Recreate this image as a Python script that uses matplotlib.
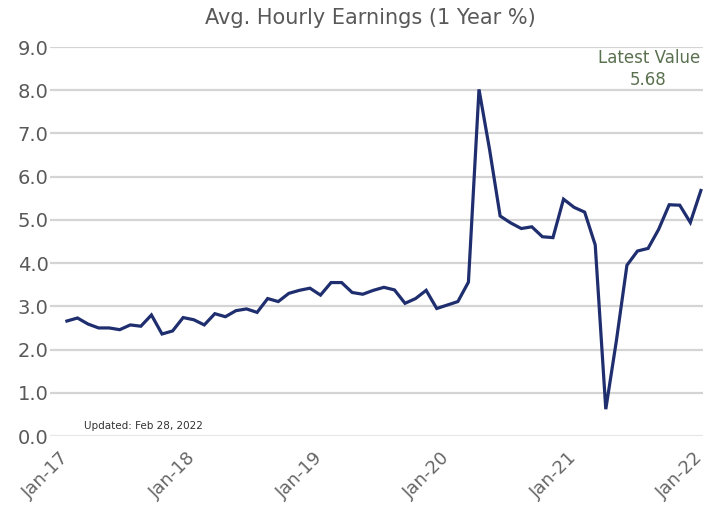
import matplotlib
matplotlib.use("Agg")
import matplotlib.pyplot as plt
import matplotlib.transforms as mtrans

values = [2.66, 2.73, 2.59, 2.50, 2.50, 2.46, 2.57, 2.54, 2.80, 2.36, 2.43, 2.74,
          2.69, 2.57, 2.83, 2.76, 2.90, 2.94, 2.86, 3.18, 3.11, 3.30, 3.37, 3.42,
          3.26, 3.55, 3.55, 3.32, 3.28, 3.37, 3.44, 3.38, 3.07, 3.18, 3.37, 2.95,
          3.03, 3.11, 3.56, 8.02, 6.63, 5.09, 4.93, 4.80, 4.84, 4.61, 4.59, 5.48,
          5.29, 5.18, 4.42, 0.62, 2.20, 3.95, 4.28, 4.34, 4.78, 5.35, 5.34, 4.94,
          5.68]
tick_pos = [0, 12, 24, 36, 48, 60]
tick_labels = ["Jan-17", "Jan-18", "Jan-19", "Jan-20", "Jan-21", "Jan-22"]
y_ticks = [0, 1, 2, 3, 4, 5, 6, 7, 8, 9]

fig = plt.figure(figsize=(7.10, 5.11), dpi=100)
ax = fig.add_axes([50/710, 1-436/511, 653/710, 389/511])
x = list(range(len(values)))
ax.plot(x, values, color="#1f2e6e", lw=2.3, solid_joinstyle="miter", zorder=3)
ax.set_xlim(-1.6, 60.2)
ax.set_ylim(0, 9)
ax.set_yticks(y_ticks)
ax.set_yticklabels([f"{v:.1f}" for v in y_ticks])
for v in y_ticks:
    ax.axhline(v, color="#e6e6e6" if v == 0 else "#d4d4d4", lw=1.6, zorder=1)
ax.set_xticks(tick_pos)
ax.set_xticklabels(tick_labels, rotation=45, ha="right", rotation_mode="anchor")
for s in ax.spines.values():
    s.set_visible(False)
ax.tick_params(axis="y", length=0, colors="#595959", labelsize=14, pad=1)
ax.tick_params(axis="x", length=0, colors="#666666", labelsize=13, pad=16.5)
off = mtrans.ScaledTranslation(3/100, 0, fig.dpi_scale_trans)
for lab in ax.get_xticklabels():
    lab.set_va("baseline")
    lab.set_transform(lab.get_transform() + off)
fig.text(0.522, 1-18/511, "Avg. Hourly Earnings (1 Year %)", ha="center", va="center",
         fontsize=15, color="#595959")
fig.text(649/710, 1-58/511, "Latest Value", ha="center", va="center",
         fontsize=12, color="#5a7150")
fig.text(648/710, 1-80/511, "5.68", ha="center", va="center",
         fontsize=12, color="#5a7150")
fig.text(84/710, 1-426/511, "Updated: Feb 28, 2022", ha="left", va="center",
         fontsize=7.5, color="#333333")
fig.savefig("out.png", dpi=100)
